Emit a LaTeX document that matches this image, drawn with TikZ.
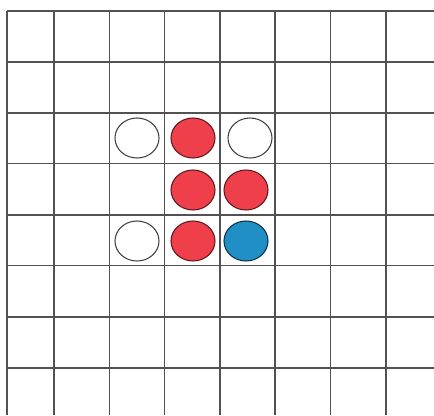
\documentclass[tikz,border=0pt]{standalone}
\usepackage{tikz}
\usetikzlibrary{positioning,shapes.geometric}
\definecolor{stonered}{HTML}{EE3F4B}
\definecolor{stoneblue}{HTML}{1F8FC6}

\begin{document}
\begin{tikzpicture}[
  x=0.025cm, y=-0.025cm,
  gridline/.style={draw=black!68, line width=1.1pt},
  stone/.style={draw, ellipse, minimum width=1.1cm, minimum height=1cm,
                inner sep=0pt, line width=0.75pt},
  emptystone/.style={stone, draw=black!75, fill=white},
  redstone/.style={stone, draw=stonered!40!black, fill=stonered},
  bluestone/.style={stone, draw=stoneblue!35!black, fill=stoneblue}
]
  \useasboundingbox (0,0) rectangle (434,415);

  % Board
  \foreach \x in {7,54,109.5,164.5,220,275,330.5,386}{
    \draw[gridline] (\x,11) -- (\x,415);
  }
  \foreach \y in {11,62,113,163.5,215,265.5,317,368}{
    \draw[gridline] (7,\y) -- (434,\y);
  }

  % Empty points
  \node[emptystone] (e1) at (137,138) {};
  \node[emptystone] (e2) at (250,138) {};
  \node[emptystone] (e3) at (137,241) {};

  % Red stones
  \node[redstone] (r1) at (193,138) {};
  \node[redstone] (r2) at (193,190) {};
  \node[redstone] (r3) at (246,190) {};
  \node[redstone] (r4) at (193,241) {};

  % Blue stone
  \node[bluestone] (b1) at (246,241) {};
\end{tikzpicture}
\end{document}
